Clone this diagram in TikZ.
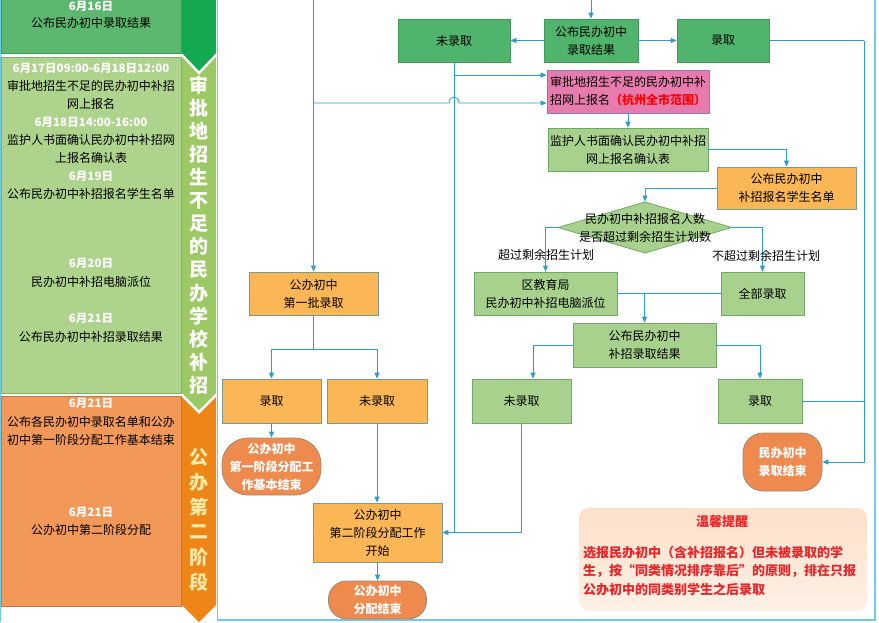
\documentclass[tikz,border=0pt]{standalone}
\usepackage{fontspec}
\setmainfont{Noto Sans CJK SC}
\usetikzlibrary{arrows.meta}
\definecolor{ln}{HTML}{2E9CCB}
\definecolor{dg}{HTML}{50B46C}
\definecolor{dgb}{HTML}{3F9A5E}
\definecolor{lg}{HTML}{A9D18E}
\definecolor{lgb}{HTML}{72A867}
\definecolor{ob}{HTML}{FBB655}
\definecolor{obb}{HTML}{7A9C8E}
\definecolor{tm}{HTML}{EF8A4F}
\definecolor{tmb}{HTML}{9C8A70}
\definecolor{pk}{HTML}{E87BAE}
\definecolor{pkb}{HTML}{8E78B8}
\definecolor{pTop}{HTML}{5CB86F}
\definecolor{pTopB}{HTML}{3C9B57}
\definecolor{pMid}{HTML}{AED38D}
\definecolor{pMidB}{HTML}{86AE66}
\definecolor{pBot}{HTML}{F29858}
\definecolor{pBotB}{HTML}{C07840}
\definecolor{bDG}{HTML}{14A850}
\definecolor{bLG}{HTML}{9CC964}
\definecolor{bOR}{HTML}{EE8517}
\definecolor{frm}{HTML}{6CCBE8}
\definecolor{tipred}{HTML}{E8262A}
\definecolor{yel}{HTML}{FDE9A8}
\definecolor{tipA}{HTML}{FCE0CA}
\definecolor{tipB}{HTML}{FEF1E6}
\newcommand\myfs{\fontsize{12}{18}\selectfont}
\begin{document}
\begin{tikzpicture}[x=1pt,y=-1pt,
  basebox/.style={line width=0.8pt, inner sep=0pt, align=center, font=\myfs, text=black},
  gbox/.style={basebox, draw=dgb, fill=dg},
  lbox/.style={basebox, draw=lgb, fill=lg},
  obox/.style={basebox, draw=obb, fill=ob},
  pbox/.style={basebox, draw=pkb, fill=pk},
  tbox/.style={basebox, draw=tmb, fill=tm, text=white, font=\myfs\bfseries},
  arr/.style={draw=ln, line width=0.8pt, -{Triangle[length=6pt,width=5pt]}},
  cn/.style={draw=ln, line width=0.8pt},
  ptxt/.style={inner sep=0pt, font=\myfs, text=black},
  pdate/.style={inner sep=0pt, font=\fontsize{11.5}{14}\selectfont\bfseries, text=white},
  vtxt/.style={inner sep=0pt, font=\fontsize{19}{20}\selectfont\bfseries},
  lab/.style={inner sep=1pt, font=\myfs, text=black}
]
\useasboundingbox (0,0) rectangle (879,622);
\fill[white] (0,0) rectangle (879,622);
% ---------- left panel ----------
\draw[frm, line width=1.2pt] (0.6,0) -- (0.6,622);
\draw[fill=pTop, draw=pTopB, line width=0.8pt] (1,-5) rectangle (181,53);
\draw[fill=pMid, draw=pMidB, line width=0.8pt] (1,57) rectangle (181,393);
\draw[fill=pBot, draw=pBotB, line width=0.8pt] (1,396) rectangle (181,606);
\node[pdate] (p1) at (91,6.5) {6月16日};
\node[ptxt] (p2) at (91,23) {公布民办初中录取结果};
\node[pdate] (p3) at (91,68) {6月17日09:00-6月18日12:00};
\node[ptxt] (p4) at (91,86) {审批地招生不足的民办初中补招};
\node[ptxt] (p5) at (91,104) {网上报名};
\node[pdate] (p6) at (91,122) {6月18日14:00-16:00};
\node[ptxt] (p7) at (91,140) {监护人书面确认民办初中补招网};
\node[ptxt] (p8) at (91,158) {上报名确认表};
\node[pdate] (p9) at (91,176) {6月19日};
\node[ptxt] (p10) at (91,194) {公布民办初中补招报名学生名单};
\node[pdate] (p11) at (91,263) {6月20日};
\node[ptxt] (p12) at (91,282) {民办初中补招电脑派位};
\node[pdate] (p13) at (91,318) {6月21日};
\node[ptxt] (p14) at (91,337) {公布民办初中补招录取结果};
\node[pdate] (p15) at (91,403) {6月21日};
\node[ptxt] (p16) at (91,422) {公布各民办初中录取名单和公办};
\node[ptxt] (p17) at (91,440) {初中第一阶段分配工作基本结束};
\node[pdate] (p18) at (91,512) {6月21日};
\node[ptxt] (p19) at (91,530) {公办初中第二阶段分配};
% ---------- band ----------
\fill[bDG] (182,-2) -- (216,-2) -- (216,53) -- (199,71) -- (182,53) -- cycle;
\fill[bLG] (182,57) -- (199,75) -- (216,57) -- (216,393) -- (199,410) -- (182,393) -- cycle;
\fill[bOR] (182,397) -- (199,414) -- (216,397) -- (216,605) -- (199,622) -- (182,605) -- cycle;
\foreach \c [count=\i] in {审,批,地,招,生,不,足,的,民,办,学,校,补,招}
  \node[vtxt, text=white] (v\i) at (199,{85+(\i-1)*23.1}) {\c};
\foreach \c [count=\i] in {公,办,第,二,阶,段}
  \node[vtxt, text=yel] (w\i) at (199,{457+(\i-1)*25}) {\c};
% ---------- frame ----------
\draw[frm, line width=1.6pt] (217.5,-5) -- (217.5,620) -- (875,620) -- (875,-5);
% ---------- flow nodes ----------
\node[gbox, minimum width=112, minimum height=43] (wl1) at (454,40.5) {未录取};
\node[gbox, minimum width=94, minimum height=43] (gb1) at (591,40.5) {公布民办初中\\录取结果};
\node[gbox, minimum width=92, minimum height=43] (lq1) at (723,40.5) {录取};
\node[pbox, minimum width=162, minimum height=43] (pink) at (628,91.5) {审批地招生不足的民办初中补\\招网上报名{\color{red}\bfseries（杭州全市范围）}};
\node[lbox, minimum width=160, minimum height=43] (jh) at (628,149.5) {监护人书面确认民办初中补招\\网上报名确认表};
\node[obox, minimum width=139, minimum height=42] (md) at (786.5,188) {公布民办初中\\补招报名学生名单};
\fill[lg, draw=lgb, line width=0.8pt] (558,227.5) -- (645,202) -- (732,227.5) -- (645,253) -- cycle;
\node[basebox, minimum width=174, minimum height=51] (dia) at (645,227.5) {民办初中补招报名人数\\是否超过剩余招生计划数};
\node[lbox, minimum width=143, minimum height=43] (qj) at (545.5,293.5) {区教育局\\民办初中补招电脑派位};
\node[lbox, minimum width=83, minimum height=43] (qb) at (762.5,293.5) {全部录取};
\node[lbox, minimum width=143, minimum height=44] (gbz) at (644.5,345) {公布民办初中\\补招录取结果};
\node[lbox, minimum width=99, minimum height=44] (wl2) at (521.5,401) {未录取};
\node[lbox, minimum width=84, minimum height=44] (lq2) at (760,401) {录取};
\node[tbox, minimum width=79, minimum height=58, rounded corners=20pt] (mjs) at (782.5,462) {民办初中\\录取结束};
\node[obox, minimum width=129, minimum height=43] (dyp) at (313.5,293.5) {公办初中\\第一批录取};
\node[obox, minimum width=99, minimum height=44] (lq3) at (271.5,401) {录取};
\node[obox, minimum width=100, minimum height=44] (wl3) at (377,401) {未录取};
\node[tbox, minimum width=99, minimum height=57, rounded corners=26pt] (t1) at (271.5,466.5) {公办初中\\第一阶段分配工\\作基本结束};
\node[obox, minimum width=129, minimum height=59] (ej) at (377.5,532.5) {公办初中\\第二阶段分配工作\\开始};
\node[tbox, minimum width=98, minimum height=38, rounded corners=18pt] (t2) at (377.5,600) {公办初中\\分配结束};
% ---------- connectors ----------
\coordinate (gtop) at (591,0);
\coordinate (ltop) at (313.5,0);
\coordinate (rt) at (864,40.5);
\coordinate (sp) at (313.5,349);
\draw[arr] (gtop) -- (gb1.north);
\draw[arr] (gb1.west) -- (wl1.east);
\draw[arr] (gb1.east) -- (lq1.west);
\draw[cn] (lq1.east) -- (rt);
\draw[arr] (rt) |- (mjs.east);
\draw[cn] (lq2.east) -- (lq2.east -| rt);
\draw[arr] (wl1.south) |- (ej.east);
\draw[arr] (wl1.south |- 0,75) -- (pink.west |- 0,75);
\draw[cn] (wl2.south) |- (wl1.south |- ej.east);
\draw[arr] (ltop) -- (dyp.north);
\draw[arr] (ltop |- 0,103) -- (449,103) .. controls (449,95) and (459,95) .. (459,103) -- (pink.west |- 0,103);
\draw[arr] (pink.south) -- (jh.north);
\draw[arr] (jh.east) -| (md.north);
\draw[arr] (md.west) -| (dia.north);
\draw[arr] (dia.west) -| (qj.north);
\draw[arr] (dia.east) -| (qb.north);
\draw[cn] (qj.east) -- (qb.west);
\draw[arr] (qj.east -| gbz.north) -- (gbz.north);
\draw[arr] (gbz.west) -| ([xshift=11.5pt]wl2.north);
\draw[arr] (gbz.east) -| (lq2.north);
\draw[cn] (dyp.south) -- (sp);
\draw[arr] (sp) -| (lq3.north);
\draw[arr] (sp) -| (wl3.north);
\draw[arr] (lq3.south) -- (t1.north);
\draw[arr] (wl3.south) -- (wl3.south |- ej.north);
\draw[arr] (ej.south) -- (t2.north);
% branch labels
\node[lab] (la1) at (546,255) {超过剩余招生计划};
\node[lab] (la2) at (766,256) {不超过剩余招生计划};
% ---------- tip box ----------
\shade[top color=tipA, bottom color=tipB, rounded corners=10pt] (579,508) rectangle (867,611);
\node[inner sep=0pt, font=\fontsize{13}{16}\selectfont\bfseries, text=tipred] (tipt) at (722,522) {温馨提醒};
\node[inner sep=0pt, anchor=north west, align=left, font=\fontsize{13}{18.5}\selectfont\bfseries, text=tipred] (tipb) at (583,546) {选报民办初中（含补招报名）但未被录取的学\\生，按“同类情况排序靠后”的原则，排在只报\\公办初中的同类别学生之后录取};
\end{tikzpicture}
\end{document}
